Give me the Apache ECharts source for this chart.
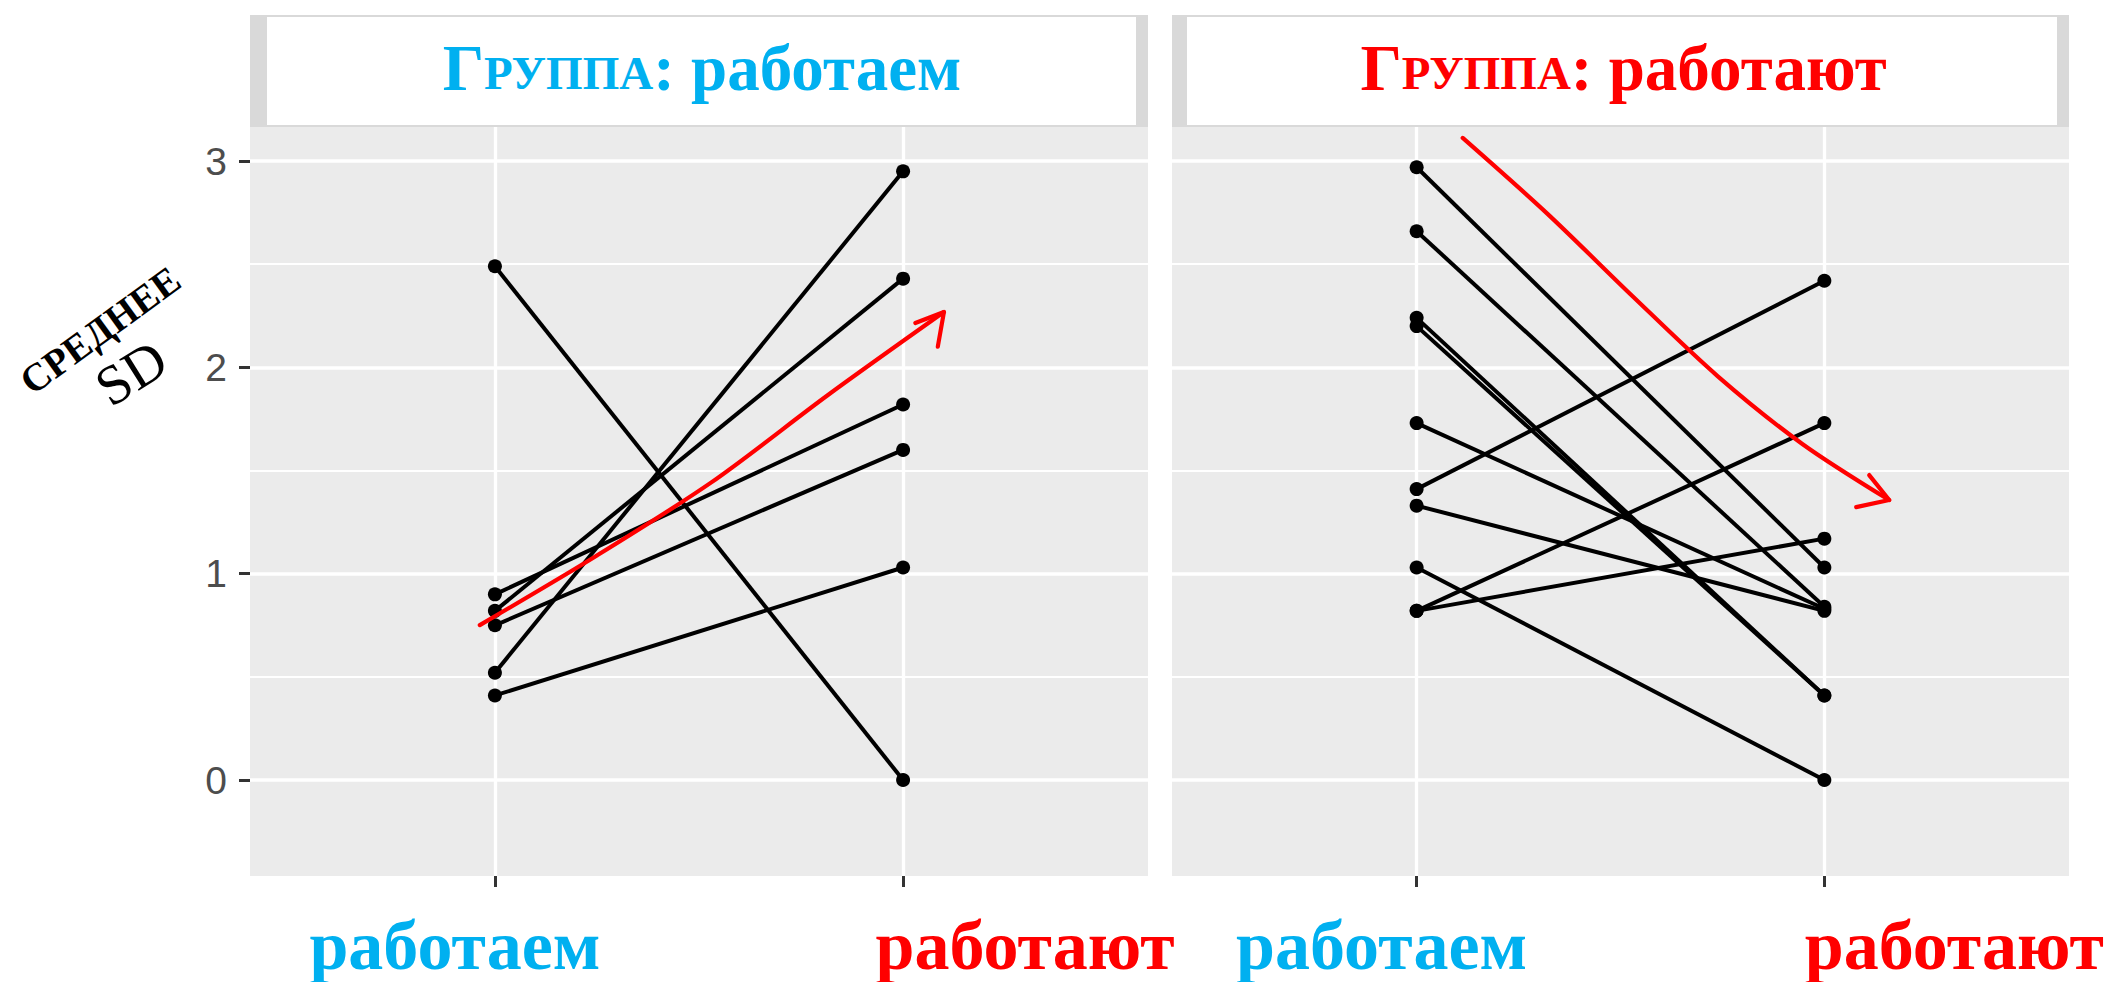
<!DOCTYPE html>
<html>
<head>
<meta charset="utf-8">
<script src="https://cdn.jsdelivr.net/npm/echarts@6/dist/echarts.min.js"></script>
<style>
html,body{margin:0;padding:0;background:#ffffff;}
#chart{width:2107px;height:982px;}
</style>
</head>
<body>
<div id="chart"></div>
<script>
// ---------- data ----------
const categories = ['работаем', 'работают'];
const panelGroups = ['работаем', 'работают'];
const yTickValues = [0, 1, 2, 3];
const yMinorValues = [0.5, 1.5, 2.5];

// Group "работаем": value at "работаем" -> value at "работают"
const weStart = [2.49, 0.90, 0.82, 0.75, 0.52, 0.41];
const weEnd   = [0.00, 1.82, 2.43, 1.60, 2.95, 1.03];

// Group "работают"
const theyStart = [2.97, 2.66, 2.24, 2.20, 1.73, 1.41, 1.33, 1.03, 0.82, 0.82];
const theyEnd   = [1.03, 0.84, 0.41, 0.41, 0.83, 2.42, 0.82, 0.00, 1.73, 1.17];

// Hand-drawn red trend arrows (in axis units: x = category index, y = value)
const trendWe       = [[-0.037, 0.751], [0.248, 1.086], [0.532, 1.445], [0.816, 1.866], [1.100, 2.268]];
const trendWeHead   = [[1.030, 2.215], [1.100, 2.268], [1.085, 2.100]];
const trendThey     = [[0.113, 3.112], [0.321, 2.744], [0.529, 2.346], [0.738, 1.958], [0.946, 1.629], [1.159, 1.357]];
const trendTheyHead = [[1.110, 1.478], [1.159, 1.357], [1.078, 1.323]];

// ---------- style ----------
const BLUE = '#00B0F0';
const RED = '#FF0000';
const PANEL_BG = '#EBEBEB';
const STRIP = '#D9D9D9';
const SERIF = '"Liberation Serif", "DejaVu Serif", serif';

const grids = [
  { left: 250, top: 127, width: 898, height: 749 },
  { left: 1172, top: 127, width: 897, height: 749 }
];

const xLabelPads = [
  { a: [0, 80, 0, 0], b: [0, 0, 0, 244] },
  { a: [0, 70, 0, 0], b: [0, 0, 0, 260] }
];

const xAxes = grids.map((g, i) => ({
  type: 'value', gridIndex: i, min: -0.6, max: 1.6, position: 'bottom',
  axisLine: { show: false, onZero: false },
  axisTick: { show: true, customValues: [0, 1], length: 11, lineStyle: { color: '#333333', width: 3 } },
  axisLabel: {
    customValues: [0, 1], margin: 34,
    formatter: v => (Math.round(v) === 0 ? '{a|' + categories[0] + '}' : '{b|' + categories[1] + '}'),
    rich: {
      a: { color: BLUE, fontSize: 70, fontFamily: SERIF, fontWeight: 'bold', padding: xLabelPads[i].a },
      b: { color: RED, fontSize: 70, fontFamily: SERIF, fontWeight: 'bold', padding: xLabelPads[i].b }
    }
  },
  splitLine: { show: true, lineStyle: { color: '#FFFFFF', width: 3.3 } }
}));

const yAxes = [];
grids.forEach((g, i) => {
  yAxes.push({
    type: 'value', gridIndex: i, min: -0.465, max: 3.165, position: 'left',
    axisLine: { show: false, onZero: false },
    axisTick: { show: i === 0, customValues: yTickValues, length: 11, lineStyle: { color: '#333333', width: 3 } },
    axisLabel: { show: i === 0, customValues: yTickValues, margin: 23, color: '#4D4D4D', fontSize: 39, fontFamily: '"Liberation Sans", Arial, sans-serif' },
    splitLine: { show: true, lineStyle: { color: '#FFFFFF', width: 3.5 } }
  });
  yAxes.push({
    type: 'value', gridIndex: i, min: -0.465, max: 3.165, position: 'left',
    axisLine: { show: false, onZero: false },
    axisTick: { show: false, customValues: yMinorValues },
    axisLabel: { show: false, customValues: yMinorValues },
    splitLine: { show: true, lineStyle: { color: '#FFFFFF', width: 2 } }
  });
});

function pairSeries(starts, ends, gi) {
  return starts.map((s, k) => ({
    type: 'line', xAxisIndex: gi, yAxisIndex: gi * 2,
    data: [[0, s], [1, ends[k]]],
    symbol: 'circle', symbolSize: 14, showSymbol: true,
    itemStyle: { color: '#000000' },
    lineStyle: { color: '#000000', width: 4 },
    silent: true, z: 3
  }));
}
function trendSeries(pts, gi, smooth) {
  return {
    type: 'line', xAxisIndex: gi, yAxisIndex: gi * 2,
    data: pts, smooth: smooth, symbol: 'none',
    lineStyle: { color: RED, width: 4.2, cap: 'round', join: 'round' },
    silent: true, z: 6
  };
}

const series = []
  .concat(pairSeries(weStart, weEnd, 0))
  .concat(pairSeries(theyStart, theyEnd, 1))
  .concat([
    trendSeries(trendWe, 0, 0.3), trendSeries(trendWeHead, 0, false),
    trendSeries(trendThey, 1, 0.3), trendSeries(trendTheyHead, 1, false)
  ]);

function stripGraphics(g, idx) {
  const color = idx === 0 ? BLUE : RED;
  const leftBorder = idx === 0 ? 17 : 15;
  return [
    { type: 'rect', shape: { x: g.left, y: 15, width: g.width, height: 112 }, style: { fill: STRIP }, z: 0, silent: true },
    { type: 'rect', shape: { x: g.left + leftBorder, y: 17, width: g.width - leftBorder - 12, height: 108 }, style: { fill: '#FFFFFF' }, z: 1, silent: true },
    {
      type: 'text', x: g.left + g.width / 2 + 3, y: 68, z: 2, silent: true,
      style: {
        text: '{c|Г}{s|РУППА}{c|: ' + panelGroups[idx] + '}',
        align: 'center', verticalAlign: 'middle',
        rich: {
          c: { fill: color, fontSize: 65, fontFamily: SERIF, fontWeight: 'bold' },
          s: { fill: color, fontSize: 47, fontFamily: SERIF, fontWeight: 'bold', verticalAlign: 'bottom', padding: [0, 0, 4, 0] }
        }
      }
    }
  ];
}

const graphic = []
  .concat(stripGraphics(grids[0], 0))
  .concat(stripGraphics(grids[1], 1))
  .concat([
    { type: 'text', x: 100, y: 330, rotation: 0.63, silent: true,
      style: { text: 'СРЕДНЕЕ', fill: '#000000', fontSize: 39, fontFamily: SERIF, fontWeight: 'bold', align: 'center', verticalAlign: 'middle' } },
    { type: 'text', x: 131, y: 373, rotation: 0.56, silent: true,
      style: { text: 'SD', fill: '#000000', fontSize: 56, fontFamily: SERIF, fontWeight: 'normal', align: 'center', verticalAlign: 'middle' } }
  ]);

const chart = echarts.init(document.getElementById('chart'), null, { renderer: 'svg', width: 2107, height: 982 });
chart.setOption({
  animation: false,
  backgroundColor: '#FFFFFF',
  grid: grids.map(g => Object.assign({ show: true, backgroundColor: PANEL_BG, borderWidth: 0, containLabel: false }, g)),
  xAxis: xAxes,
  yAxis: yAxes,
  series: series,
  graphic: graphic
});
</script>
</body>
</html>
